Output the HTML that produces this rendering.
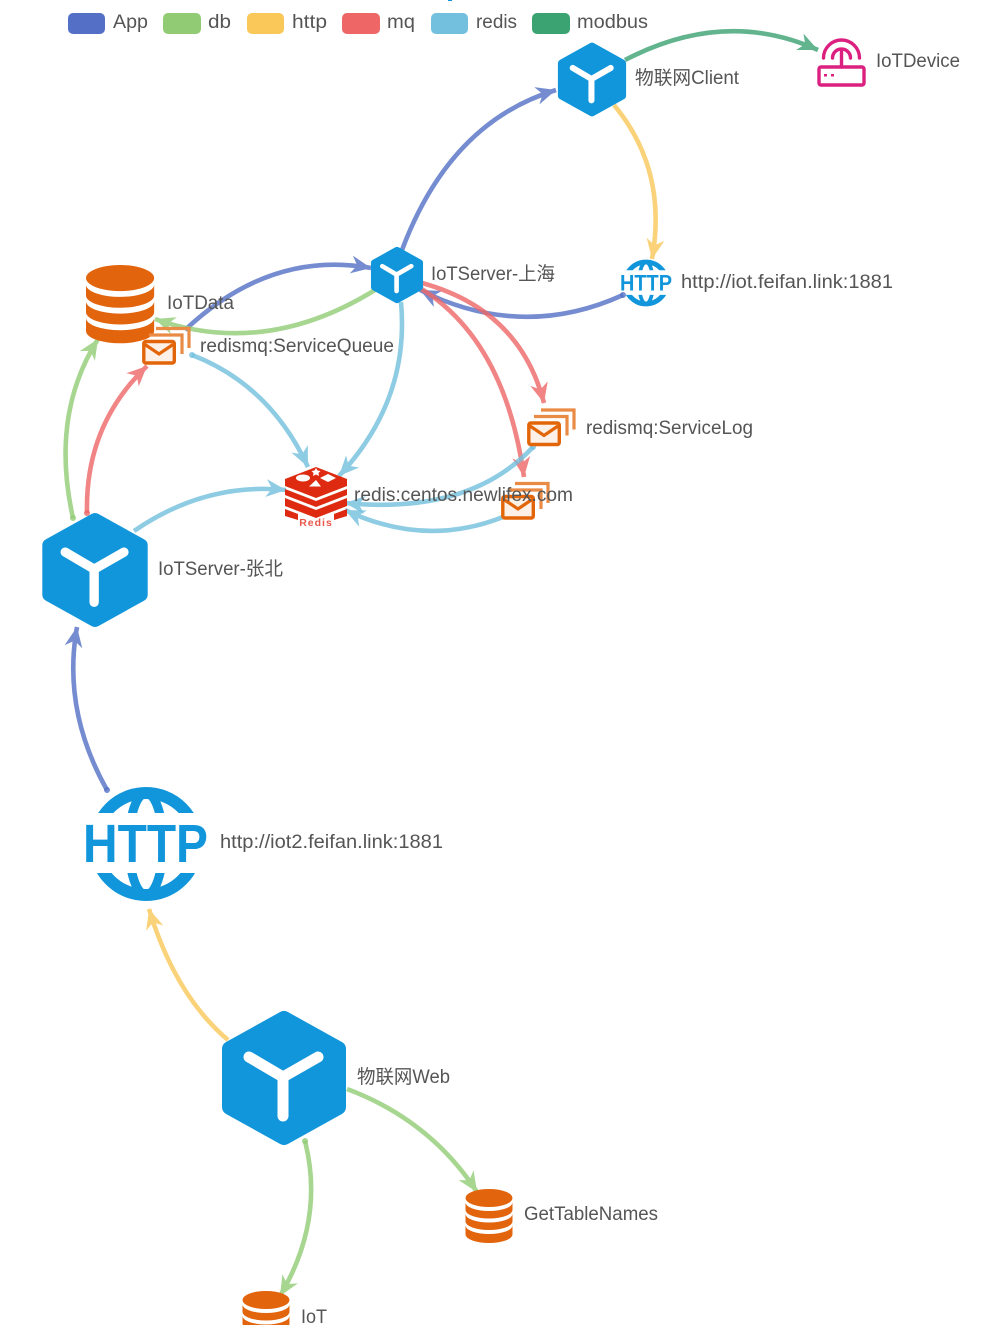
<!DOCTYPE html>
<html><head><meta charset="utf-8"><style>
html,body{margin:0;padding:0;background:#fff}
svg{display:block}
.l{font-family:"Liberation Sans","Noto Sans CJK SC",sans-serif;font-size:19px;fill:#555}
.e{fill:none;stroke-width:4.6;opacity:.8}
</style></head><body>
<svg width="1000" height="1325" viewBox="0 0 1000 1325" xmlns="http://www.w3.org/2000/svg">
<defs>
<marker id="aB" markerUnits="userSpaceOnUse" markerWidth="26" markerHeight="26" refX="21" refY="12" orient="auto"><path d="M21,12L1,3L7,12L1,21Z" fill="#5470c6"/></marker>
<marker id="aG" markerUnits="userSpaceOnUse" markerWidth="26" markerHeight="26" refX="21" refY="12" orient="auto"><path d="M21,12L1,3L7,12L1,21Z" fill="#91cc75"/></marker>
<marker id="aY" markerUnits="userSpaceOnUse" markerWidth="26" markerHeight="26" refX="21" refY="12" orient="auto"><path d="M21,12L1,3L7,12L1,21Z" fill="#fac858"/></marker>
<marker id="aR" markerUnits="userSpaceOnUse" markerWidth="26" markerHeight="26" refX="21" refY="12" orient="auto"><path d="M21,12L1,3L7,12L1,21Z" fill="#ee6666"/></marker>
<marker id="aL" markerUnits="userSpaceOnUse" markerWidth="26" markerHeight="26" refX="21" refY="12" orient="auto"><path d="M21,12L1,3L7,12L1,21Z" fill="#73c0de"/></marker>
<marker id="aM" markerUnits="userSpaceOnUse" markerWidth="26" markerHeight="26" refX="21" refY="12" orient="auto"><path d="M21,12L1,3L7,12L1,21Z" fill="#3ba272"/></marker>
<g id="hex">
<path d="M0,-59L54,-29V29L0,59L-54,29V-29Z" fill="#1296db" stroke="#1296db" stroke-width="16" stroke-linejoin="round"/>
<path d="M-35,-21L-1,-1L34,-21M-1,-1V38" fill="none" stroke="#fff" stroke-width="11" stroke-linecap="round" stroke-linejoin="round"/>
</g>
<g id="db" fill="#e2640c">
<ellipse cx="23.5" cy="9" rx="23.5" ry="9"/>
<path d="M0,13.500A23.5,8.500 0 0 0 47,13.500V21A23.5,8.500 0 0 1 0,21Z"/>
<path d="M0,25A23.5,8.500 0 0 0 47,25V32.500A23.5,8.500 0 0 1 0,32.500Z"/>
<path d="M0,36.500A23.5,8.500 0 0 0 47,36.500V45.500A23.5,8.500 0 0 1 0,45.500Z"/>
</g>
<g id="mq">
<path d="M14,1.5H47V21M7,8H40V27" fill="none" stroke="#e98a45" stroke-width="3.200"/>
<rect x="1.800" y="14.500" width="30.500" height="21.500" rx="2" fill="#fdf0e6" stroke="#e36509" stroke-width="3.400"/>
<path d="M3,17.500L17,27L31,17.500" fill="none" stroke="#e36509" stroke-width="3.200"/>
</g>
<clipPath id="bands"><path d="M-70,-60H70V-31H-70ZM-70,29H70V60H-70Z"/></clipPath>
<g id="globe"><g clip-path="url(#bands)" fill="none" stroke="#1296db">
<circle r="51" stroke-width="12"/>
<ellipse rx="17" ry="51" stroke-width="9"/>
</g></g>
</defs>

<rect x="448" y="0" width="4" height="1" fill="#1296db"/>

<!-- legend -->
<rect x="68" y="13" width="37" height="21" rx="5" fill="#5470c6"/>
<rect x="163" y="13" width="38" height="21" rx="5" fill="#91cc75"/>
<rect x="247" y="13" width="37" height="21" rx="5" fill="#fac858"/>
<rect x="342" y="13" width="38" height="21" rx="5" fill="#ee6666"/>
<rect x="431" y="13" width="37" height="21" rx="5" fill="#73c0de"/>
<rect x="532" y="13" width="38" height="21" rx="5" fill="#3ba272"/>
<text class="l" x="113" y="28" textLength="35" lengthAdjust="spacingAndGlyphs">App</text>
<text class="l" x="208" y="28" textLength="23" lengthAdjust="spacingAndGlyphs">db</text>
<text class="l" x="292" y="28" textLength="35" lengthAdjust="spacingAndGlyphs">http</text>
<text class="l" x="387" y="28" textLength="28" lengthAdjust="spacingAndGlyphs">mq</text>
<text class="l" x="476" y="28" textLength="41" lengthAdjust="spacingAndGlyphs">redis</text>
<text class="l" x="577" y="28" textLength="71" lengthAdjust="spacingAndGlyphs">modbus</text>

<!-- edges -->
<path class="e" stroke="#5470c6" marker-end="url(#aB)" d="M402,250Q450,122 556,90"/>
<path class="e" stroke="#3ba272" marker-end="url(#aM)" d="M625,60Q725,8 818,50"/>
<path class="e" stroke="#fac858" marker-end="url(#aY)" d="M614,105Q668,170 652,259"/>
<path class="e" stroke="#5470c6" marker-end="url(#aB)" d="M623,295Q522,341 420,290"/>
<path class="e" stroke="#73c0de" marker-end="url(#aL)" d="M401,302Q410,400 339,476"/>
<path class="e" stroke="#ee6666" marker-end="url(#aR)" d="M422,283Q520,310 544,403"/>
<path class="e" stroke="#ee6666" marker-end="url(#aR)" d="M420,288Q505,340 524,477"/>
<path class="e" stroke="#73c0de" marker-end="url(#aL)" d="M533,447Q470,515 345,503"/>
<path class="e" stroke="#73c0de" marker-end="url(#aL)" d="M503,517Q425,548 345,510"/>
<path class="e" stroke="#73c0de" marker-end="url(#aL)" d="M192,355Q270,385 308,467"/>
<path class="e" stroke="#73c0de" marker-end="url(#aL)" d="M134,531Q205,482 286,490"/>
<path class="e" stroke="#91cc75" marker-end="url(#aG)" d="M73,518Q50,415 98,339"/>
<path class="e" stroke="#ee6666" marker-end="url(#aR)" d="M87,513Q85,425 147,366"/>
<path class="e" stroke="#5470c6" marker-end="url(#aB)" d="M185,330Q270,250 371,268"/>
<path class="e" stroke="#91cc75" marker-end="url(#aG)" d="M375,290Q265,358 155,319"/>
<path class="e" stroke="#5470c6" marker-end="url(#aB)" d="M107,790Q62,710 77,627"/>
<path class="e" stroke="#fac858" marker-end="url(#aY)" d="M228,1040Q175,995 149,909"/>
<path class="e" stroke="#91cc75" marker-end="url(#aG)" d="M347,1089Q430,1120 477,1192"/>
<path class="e" stroke="#91cc75" marker-end="url(#aG)" d="M305,1141Q325,1220 280,1296"/>
<g opacity=".8">
<circle cx="73" cy="518" r="3" fill="#91cc75"/><circle cx="87" cy="513" r="3" fill="#ee6666"/>
<circle cx="192" cy="355" r="3" fill="#73c0de"/><circle cx="533" cy="447" r="3" fill="#73c0de"/>
<circle cx="623" cy="295" r="3" fill="#5470c6"/><circle cx="107" cy="790" r="3" fill="#5470c6"/>
<circle cx="305" cy="1141" r="3" fill="#91cc75"/>
</g>

<!-- nodes -->
<use href="#hex" transform="translate(592,79.5) scale(.55)"/>
<use href="#hex" transform="translate(397,275) scale(.42)"/>
<use href="#hex" transform="translate(95,570) scale(.85)"/>
<use href="#hex" transform="translate(284,1078)"/>

<use href="#db" transform="translate(86,265) scale(1.45)"/>
<use href="#db" transform="translate(465.5,1189)"/>
<use href="#db" transform="translate(242.5,1291)"/>

<use href="#mq" transform="translate(142,327)"/>
<use href="#mq" transform="translate(527,408.5)"/>
<use href="#mq" transform="translate(501,482)"/>

<!-- router -->
<g fill="none" stroke="#dc2080" stroke-width="3.4">
<rect x="819" y="67" width="45" height="18" rx="2"/>
<path d="M841.5,52V67M832.5,58A9,9 0 0 1 850.5,58M823.500,58A18,18 0 0 1 859.500,58" stroke-linecap="round"/>
</g>
<rect x="824" y="74" width="3" height="2.500" fill="#dc2080"/><rect x="831" y="74" width="3" height="2.500" fill="#dc2080"/>

<!-- http -->
<use href="#globe" transform="translate(146,844)"/>
<text x="83" y="862" textLength="125" lengthAdjust="spacingAndGlyphs" font-family="Liberation Sans,sans-serif" font-weight="700" font-size="54" fill="#1296db">HTTP</text>
<use href="#globe" transform="translate(646,283) scale(.41)"/>
<text x="620" y="290.500" textLength="52" lengthAdjust="spacingAndGlyphs" font-family="Liberation Sans,sans-serif" font-weight="700" font-size="22" fill="#1296db">HTTP</text>

<!-- redis -->
<g fill="#de2a10">
<path d="M316,467L347,479V486L316,498L285,486V479Z"/>
<path d="M285,489L316,501L347,489V495L316,507L285,495Z"/>
<path d="M285,498L316,510L347,498V506L316,518L285,506Z"/>
<path d="M285,509L298,514V520L285,516ZM347,509L334,514V520L347,516Z"/>
</g>
<g fill="#fff">
<ellipse cx="303" cy="478" rx="7" ry="3.500"/><path d="M316,468l1.500,2.500 3,.5-2,2 .5,3-3-1.500-3,1.500 .5-3-2-2 3-.5Z"/>
<path d="M328,474l8,4-8,4-8-4Z"/><path d="M316,480l5,6.500h-12Z"/>
</g>
<text x="316" y="526" text-anchor="middle" font-family="Liberation Sans,sans-serif" font-weight="700" font-size="10.500" letter-spacing="1" fill="#e9574a">Redis</text>

<!-- labels -->
<text class="l" x="876" y="67" textLength="84" lengthAdjust="spacingAndGlyphs">IoTDevice</text>
<text class="l" x="635" y="84" textLength="104" lengthAdjust="spacingAndGlyphs">物联网Client</text>
<text class="l" x="431" y="280" textLength="124" lengthAdjust="spacingAndGlyphs">IoTServer-上海</text>
<text class="l" x="681" y="288" textLength="212" lengthAdjust="spacingAndGlyphs">http://iot.feifan.link:1881</text>
<text class="l" x="167" y="309" textLength="67" lengthAdjust="spacingAndGlyphs">IoTData</text>
<text class="l" x="200" y="352" textLength="194" lengthAdjust="spacingAndGlyphs">redismq:ServiceQueue</text>
<text class="l" x="586" y="434" textLength="167" lengthAdjust="spacingAndGlyphs">redismq:ServiceLog</text>
<text class="l" x="354" y="501" textLength="219" lengthAdjust="spacingAndGlyphs">redis:centos.newlifex.com</text>
<text class="l" x="158" y="575" textLength="125" lengthAdjust="spacingAndGlyphs">IoTServer-张北</text>
<text class="l" x="220" y="848" textLength="223" lengthAdjust="spacingAndGlyphs">http://iot2.feifan.link:1881</text>
<text class="l" x="357" y="1083" textLength="93" lengthAdjust="spacingAndGlyphs">物联网Web</text>
<text class="l" x="524" y="1220" textLength="134" lengthAdjust="spacingAndGlyphs">GetTableNames</text>
<text class="l" x="301" y="1323" textLength="26" lengthAdjust="spacingAndGlyphs">IoT</text>
</svg>
</body></html>
